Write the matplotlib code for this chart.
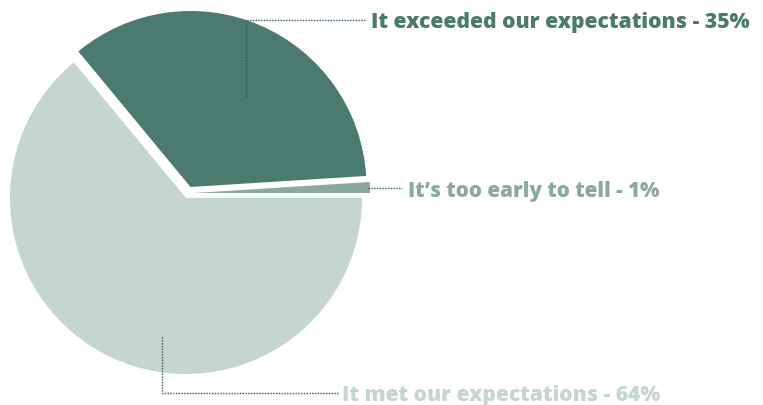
import matplotlib
matplotlib.use("Agg")
import matplotlib.pyplot as plt

# survey answers, in drawing order (clockwise from 3 o'clock)
labels = ["It met our expectations - 64%",
          "It exceeded our expectations - 35%",
          "It’s too early to tell - 1%"]
shares = [64, 35, 1]
colors = ["#c4d5d2", "#4b7a6f", "#8ba9a1"]
text_colors = ["#c4d5d2", "#4b7a6f", "#8ba9a1"]
leader_color = "#2c5a4f"

W, H = 763, 405
fig = plt.figure(figsize=(W / 100, H / 100), dpi=100)
ax = fig.add_axes([0, 0, 1, 1])

cx, cy, r = 186, H - 198, 176
wedges, _ = ax.pie(shares, colors=colors, startangle=0, counterclock=False,
                   radius=r, center=(cx, cy), frame=True)
ax.set_xlim(0, W)
ax.set_ylim(0, H)
ax.set_aspect("equal")
ax.axis("off")

# pull the two smaller slices away from the big one
offsets = [(0, 0), (4.5, 11), (8, 5)]
for w, (dx, dy) in zip(wedges, offsets):
    w.set_center((cx + dx, cy + dy))

dot = dict(color=leader_color, lw=1.0, ls=(0, (1, 1)))

# leader lines (pixel coords, y measured from top)
def leader(pts):
    xs = [p[0] for p in pts]
    ys = [H - p[1] for p in pts]
    ax.plot(xs, ys, **dot)

leader([(246, 97), (246, 20), (366, 20)])
leader([(368, 188), (402, 188)])
leader([(162, 337), (162, 393), (338, 393)])

# label anchor (left x, centre y from top) and target width in px
label_pos = [(342, 393, 318), (371, 20, 380), (408, 189, 252)]

fig.canvas.draw()
renderer = fig.canvas.get_renderer()
for text, col, (x, y, tw) in zip(labels, text_colors, label_pos):
    t = ax.text(x, H - y, text, color=col, fontsize=12, fontweight="heavy",
                family=["Open Sans", "DejaVu Sans"], ha="left",
                va="center_baseline")
    bb = t.get_window_extent(renderer)
    t.set_fontsize(12 * tw / bb.width)

fig.savefig("out.png", dpi=100)
